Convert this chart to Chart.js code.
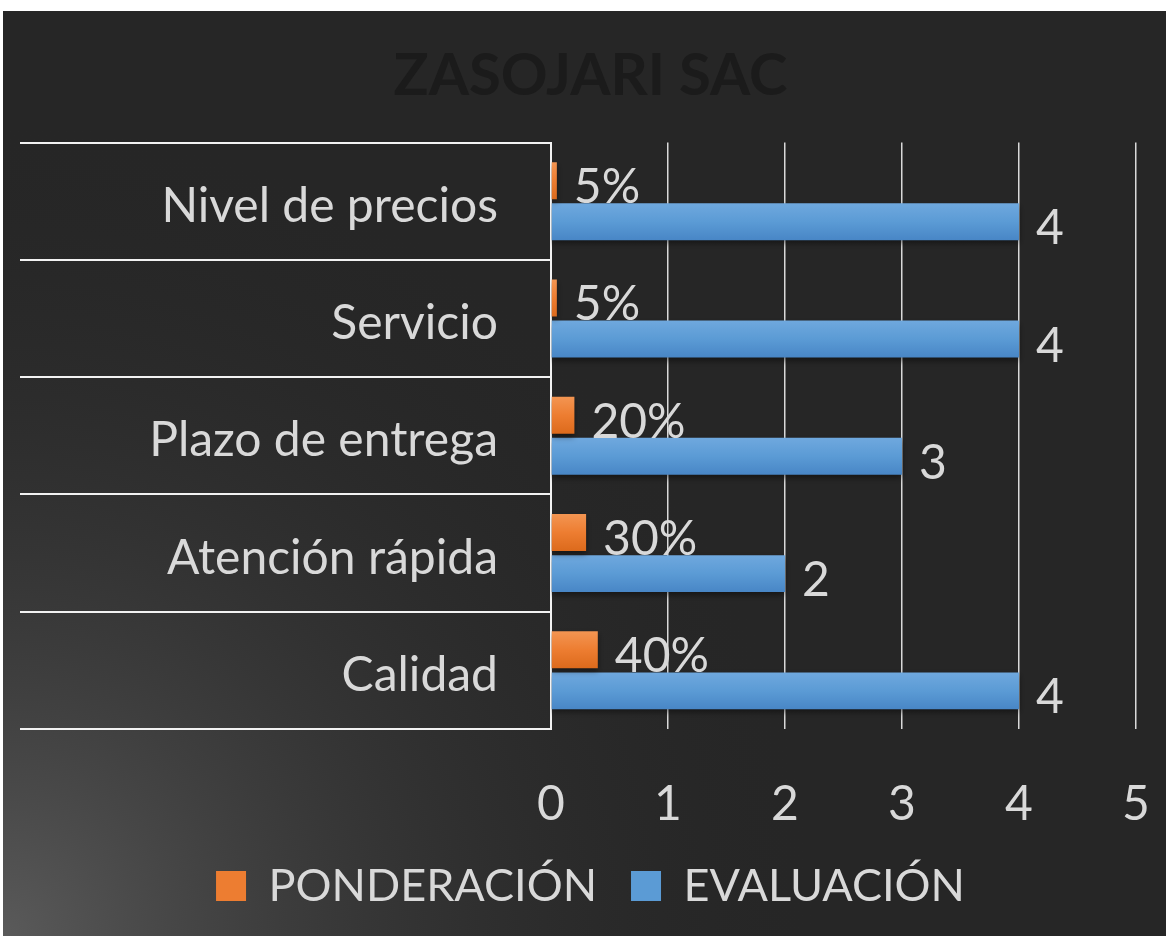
<!DOCTYPE html>
<html>
<head>
<meta charset="utf-8">
<script src="https://cdn.jsdelivr.net/npm/chart.js@4"></script>
<style>
    body { margin: 0; background: #ffffff; }
    #wrap { position: absolute; left: 3px; top: 11px; width: 1163px; height: 925px; }
</style>
</head>
<body>
<div id="wrap"><canvas id="chartZaso"></canvas></div>
<script>
const categorias = ['Nivel de precios', 'Servicio', 'Plazo de entrega', 'Atención rápida', 'Calidad'];
const ponderacion = [0.05, 0.05, 0.20, 0.30, 0.40];
const evaluacion = [4, 4, 3, 2, 4];
const etiquetasPond = ['5%', '5%', '20%', '30%', '40%'];
const etiquetasEval = ['4', '4', '3', '2', '4'];
const ticksX = [0, 1, 2, 3, 4, 5];

const fuente = 'Lato';
const gris = '#d9d9d9';

// fondo oscuro con el degradado claro abajo a la izquierda
const fondo = {
    id: 'fondo',
    beforeDraw(chart) {
        let ctx = chart.ctx;
        ctx.save();
        ctx.fillStyle = '#262626';
        ctx.fillRect(0, 0, chart.width, chart.height);
        let g = ctx.createRadialGradient(0, chart.height, 0, 0, chart.height, 820);
        g.addColorStop(0, '#5a5a5a');
        g.addColorStop(1, 'rgba(38,38,38,0)');
        ctx.fillStyle = g;
        ctx.fillRect(0, 0, chart.width, chart.height);
        ctx.restore();
    }
};

// degradado vertical en cada barra + sombra
const colores = [['#f39552', '#ed7d31', '#dc6a1c'], ['#6fa8de', '#5b9bd5', '#4886c6']];
const degradado = {
    id: 'degradado',
    beforeDatasetsDraw(chart) {
        let ctx = chart.ctx;
        chart.data.datasets.forEach((ds, i) => {
            chart.getDatasetMeta(i).data.forEach(bar => {
                let h = bar.height / 2;
                let g = ctx.createLinearGradient(0, bar.y - h, 0, bar.y + h);
                g.addColorStop(0, colores[i][0]);
                g.addColorStop(0.5, colores[i][1]);
                g.addColorStop(1, colores[i][2]);
                bar.options.backgroundColor = g;
            });
        });
        ctx.save();
        ctx.shadowColor = 'rgba(0,0,0,0.45)';
        ctx.shadowBlur = 6;
        ctx.shadowOffsetY = 3;
    }
};

const etiquetas = {
    id: 'etiquetas',
    afterDatasetsDraw(chart) {
        let ctx = chart.ctx;
        ctx.restore();
        ctx.save();
        ctx.font = '48px ' + fuente;
        ctx.fillStyle = gris;
        ctx.textBaseline = 'middle';
        ctx.textAlign = 'left';
        chart.data.datasets.forEach((ds, i) => {
            let textos = i == 0 ? etiquetasPond : etiquetasEval;
            chart.getDatasetMeta(i).data.forEach((bar, j) => {
                ctx.fillText(textos[j], bar.x + 17, bar.y + 7);
            });
        });
        ctx.restore();
    }
};

let config = {
    type: 'bar',
    data: {
        labels: categorias,
        datasets: [{
            label: 'PONDERACIÓN',
            data: ponderacion,
            backgroundColor: (c) => colores[0][1],
            categoryPercentage: 0.70,
            barPercentage: 0.9
        }, {
            label: 'EVALUACIÓN',
            data: evaluacion,
            backgroundColor: (c) => colores[1][1],
            categoryPercentage: 0.70,
            barPercentage: 0.9
        }]
    },
    options: {
        indexAxis: 'y',
        responsive: true,
        maintainAspectRatio: false,
        animation: false,
        layout: { padding: { top: 0, right: 0, bottom: 17.5, left: 12 } },
        plugins: {
            title: {
                display: true,
                text: 'ZASOJARI SAC',
                color: '#1b1b1b',
                font: { family: fuente, size: 58, weight: 'bold' },
                padding: { top: 30, bottom: 32 }
            },
            legend: {
                position: 'bottom',
                labels: {
                    color: gris,
                    font: { family: fuente, size: 45 },
                    boxWidth: 30,
                    boxHeight: 30,
                    padding: 34
                }
            },
            tooltip: { enabled: false }
        },
        scales: {
            x: {
                min: 0,
                max: 5,
                afterBuildTicks: (s) => { s.ticks = ticksX.map(v => ({ value: v })); },
                afterFit: (s) => { s.height = 100.5; s.paddingRight = 30; s.paddingLeft = 0; },
                grid: { color: gris, lineWidth: 1.5, drawTicks: false },
                border: { display: false },
                ticks: { color: gris, font: { family: fuente, size: 48 }, padding: 47 }
            },
            y: {
                afterFit: (s) => { s.width = 536; },
                grid: { color: '#f2f2f2', lineWidth: 2, drawOnChartArea: false, tickLength: 531 },
                border: { display: true, color: '#f2f2f2', width: 2 },
                ticks: { color: gris, font: { family: fuente, size: 48 }, padding: -478, labelOffset: 5 }
            }
        }
    },
    plugins: [fondo, degradado, etiquetas]
};

let chartZaso = new Chart(document.querySelector('#chartZaso').getContext('2d'), config);
</script>
</body>
</html>
